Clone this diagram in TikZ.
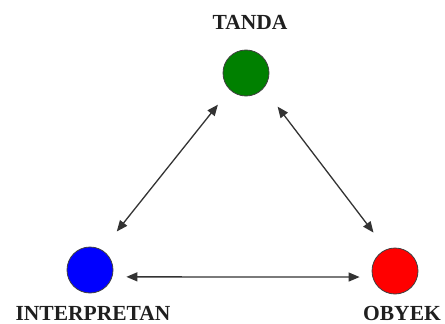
\documentclass[tikz,border=0pt]{standalone}
\usepackage{fontspec}
\setmainfont{Liberation Serif}
\usetikzlibrary{arrows.meta}
\begin{document}
\begin{tikzpicture}[x=1pt,y=-1pt,
  dot/.style={circle,draw=black!75,line width=0.8pt,minimum size=46pt,inner sep=0pt},
  lbl/.style={font=\fontsize{21.5}{21.5}\selectfont\bfseries,text=black!88,inner sep=0pt},
  arr/.style={{Triangle[length=11pt,width=9pt]}-{Triangle[length=11pt,width=9pt]},draw=black!80,line width=1.3pt}]
\useasboundingbox (0,0) rectangle (445,324);
\node[dot,fill={rgb,255:red,0;green,128;blue,0}] (g) at (246,73) {};
\node[dot,fill={rgb,255:red,0;green,0;blue,255}] (b) at (90,270) {};
\node[dot,fill={rgb,255:red,255;green,0;blue,0}] (r) at (395,271) {};
\node[lbl] (tg) at (250,22) {TANDA};
\node[lbl] (tb) at (93,313.5) {INTERPRETAN};
\node[lbl] (tr) at (402,313.5) {OBYEK};
\draw[arr,shorten <=19pt,shorten >=23.6pt] (g.226) -- (b.59);
\draw[arr,shorten <=23pt,shorten >=21pt] (g.319) -- (r.112);
\draw[arr,shorten <=14pt,shorten >=12.8pt] (b.343) -- (r.195);
\end{tikzpicture}
\end{document}
